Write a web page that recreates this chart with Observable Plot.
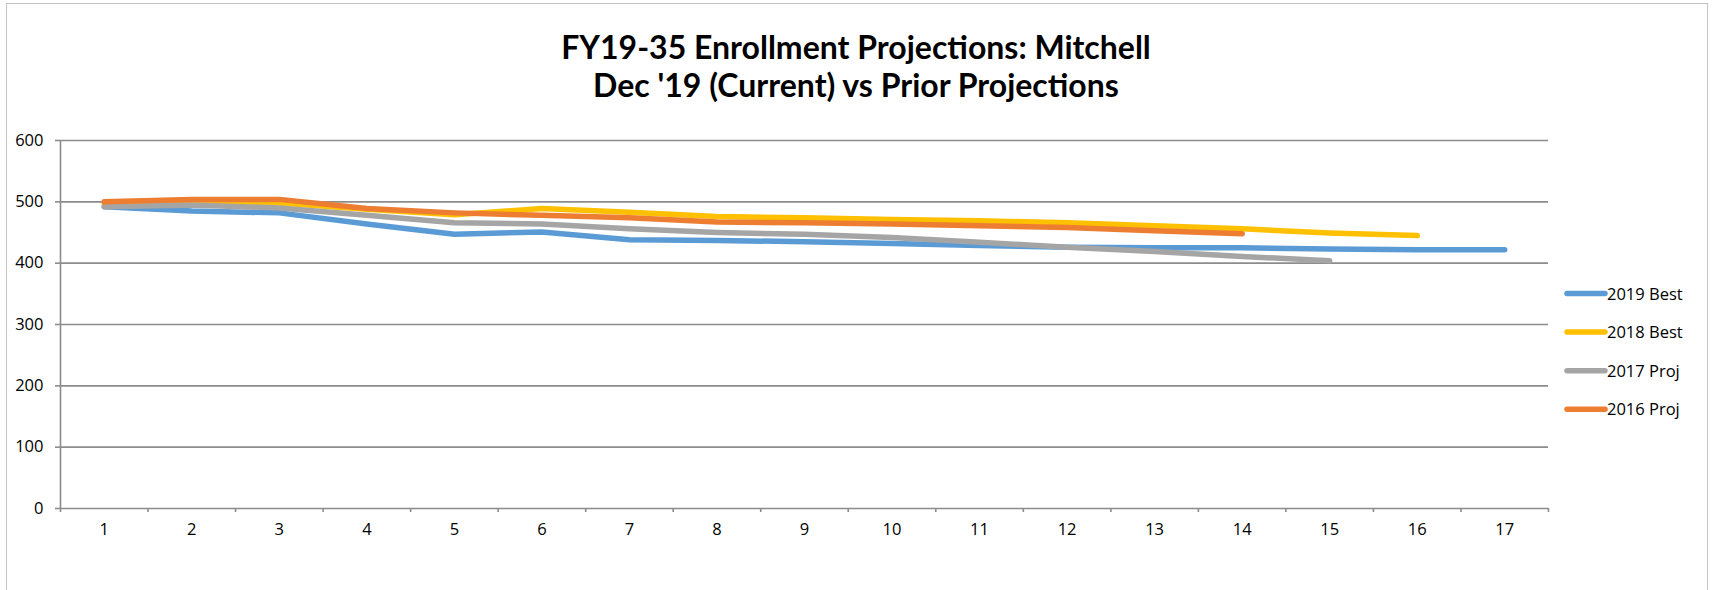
<!DOCTYPE html>
<html>
<head>
<meta charset="utf-8">
<script src="https://cdn.jsdelivr.net/npm/d3@7"></script>
<script src="https://cdn.jsdelivr.net/npm/@observablehq/plot@0.6"></script>
<style>
  html, body { margin: 0; padding: 0; background: #fff; }
  #wrap { position: relative; width: 1712px; height: 590px; overflow: hidden; background: #fff; }
  #frame { position: absolute; left: 6px; top: 3px; width: 1702px; height: 640px; border: 1.5px solid #c4c4c4; box-sizing: border-box; }
  #chart { position: absolute; left: 0; top: 0; }
  #overlay { position: absolute; left: 0; top: 0; }
</style>
</head>
<body>
<div id="wrap">
  <div id="frame"></div>
  <div id="chart"></div>
  <svg id="overlay" width="1712" height="590"></svg>
</div>
<script>
// ---- data ----
const titleLines = ["FY19-35 Enrollment Projections: Mitchell", "Dec '19 (Current) vs Prior Projections"];
const years = [1, 2, 3, 4, 5, 6, 7, 8, 9, 10, 11, 12, 13, 14, 15, 16, 17];
const seriesNames = ["2019 Best", "2018 Best", "2017 Proj", "2016 Proj"];
const seriesColors = ["#5B9BD5", "#FFC000", "#A5A5A5", "#ED7D31"];
const best2019 = [492, 485, 482, 464, 447, 451, 438, 437, 435, 432, 429, 426, 425, 425, 423, 422, 422];
const best2018 = [497, 500, 498, 488, 479, 489, 483, 476, 474, 471, 469, 466, 461, 456, 449, 445];
const proj2017 = [492, 495, 490, 478, 466, 464, 456, 450, 447, 442, 434, 426, 419, 411, 404];
const proj2016 = [500, 504, 504, 489, 482, 478, 474, 467, 466, 464, 461, 458, 453, 448];
const yTicks = [0, 100, 200, 300, 400, 500, 600];

const seriesValues = [best2019, best2018, proj2017, proj2016];
const rows = seriesNames.flatMap((name, k) =>
  seriesValues[k].map((v, i) => ({ year: years[i], value: v, series: name }))
);
const boundaries = [0, ...years].map(d => d + 0.5);

const font = "'Open Sans', 'Liberation Sans', 'DejaVu Sans', sans-serif";
const titleFont = "Lato, 'Liberation Sans', 'DejaVu Sans', sans-serif";
const gridColor = "#8c8c8c";

const chart = Plot.plot({
  width: 1712,
  height: 590,
  marginLeft: 60,
  marginRight: 164,
  marginTop: 140,
  marginBottom: 82,
  x: { domain: [0.5, 17.5] },
  y: { domain: [0, 600] },
  color: { domain: seriesNames, range: seriesColors },
  style: { fontFamily: font, fontSize: "16.5px", color: "#000", background: "transparent", overflow: "visible" },
  marks: [
    Plot.gridY(yTicks, { stroke: gridColor, strokeOpacity: 1, strokeWidth: 1.6 }),
    Plot.axisY(yTicks, { tickSize: 5, tickPadding: 12, stroke: gridColor, strokeWidth: 1.6, label: null, fill: "#000" }),
    Plot.ruleX([0.5], { stroke: gridColor, strokeWidth: 1.6 }),
    Plot.axisX(boundaries, { tickSize: 4, tickFormat: () => "", stroke: gridColor, strokeWidth: 1.6, label: null }),
    Plot.axisX(years, { tickSize: 0, tickPadding: 15, label: null, fill: "#000" }),
    Plot.line(rows, {
      x: "year", y: "value", z: "series", stroke: "series",
      strokeWidth: 5.5, strokeLinecap: "round", strokeLinejoin: "round"
    })
  ]
});
document.getElementById("chart").appendChild(chart);

// ---- title and legend ----
const ov = d3.select("#overlay");
ov.selectAll("text.title").data(titleLines).join("text")
  .attr("class", "title")
  .attr("x", 856)
  .attr("y", (d, i) => 59 + i * 38)
  .attr("text-anchor", "middle")
  .attr("font-family", titleFont)
  .attr("font-weight", "bold")
  .attr("font-size", 32)
  .attr("fill", "#000")
  .text(d => d);

const lg = ov.selectAll("g.leg").data(seriesNames).join("g")
  .attr("class", "leg")
  .attr("transform", (d, i) => `translate(1567, ${293.5 + i * 38.6})`);
lg.append("line")
  .attr("x1", 0).attr("x2", 38).attr("y1", 0).attr("y2", 0)
  .attr("stroke", (d, i) => seriesColors[i])
  .attr("stroke-width", 5.5)
  .attr("stroke-linecap", "round");
lg.append("text")
  .attr("x", 40).attr("y", 6)
  .attr("font-family", font)
  .attr("font-size", 16.5)
  .attr("fill", "#000")
  .text(d => d);
</script>
</body>
</html>
